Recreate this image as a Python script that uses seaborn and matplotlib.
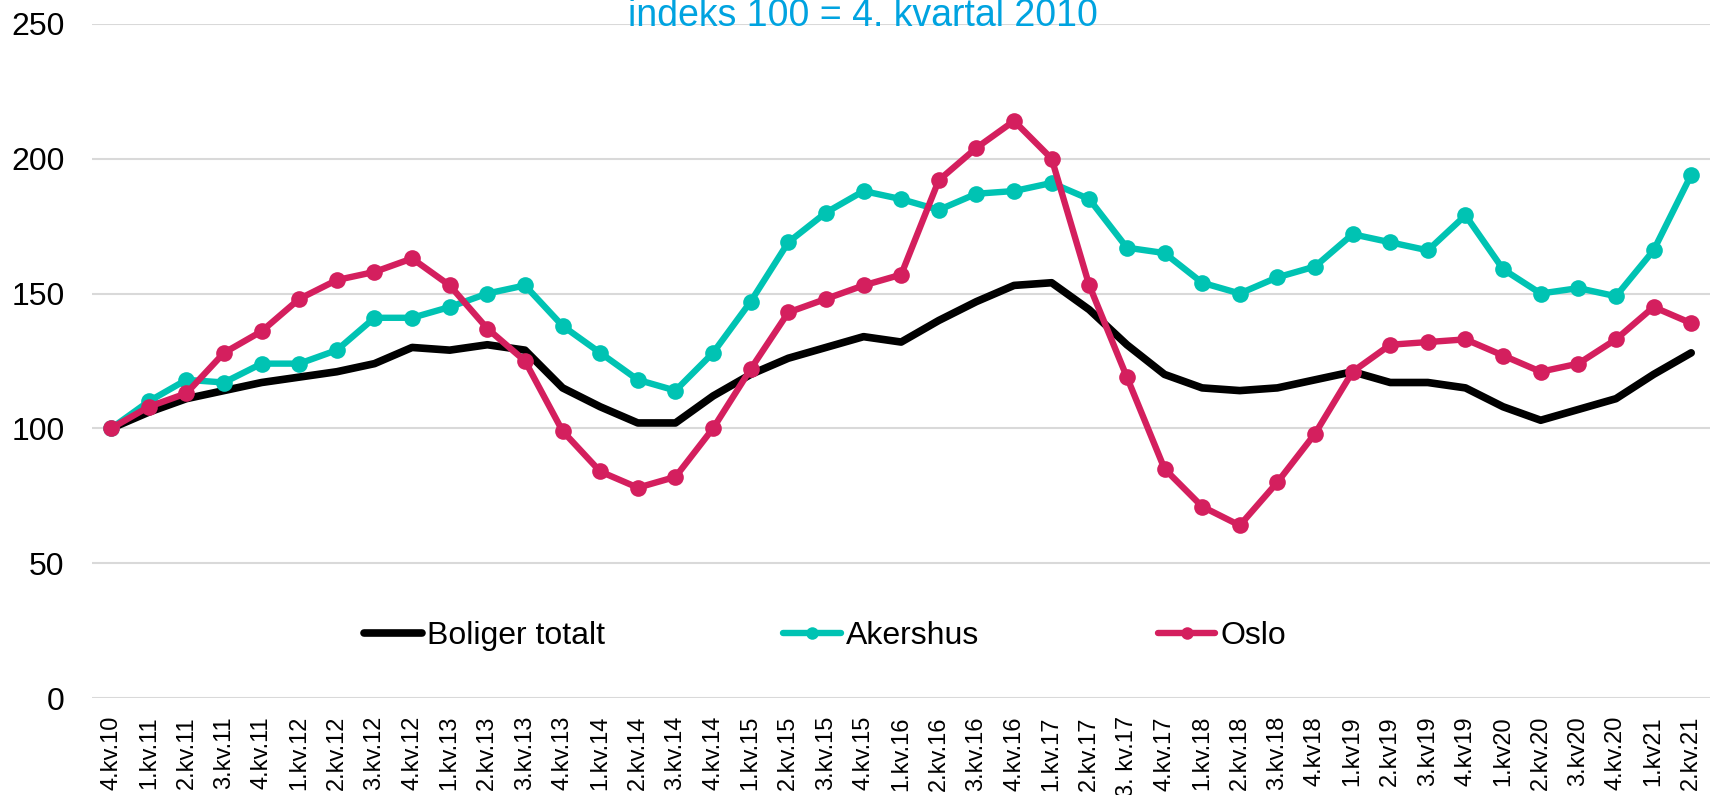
import numpy as np
import pandas as pd
import matplotlib
matplotlib.use("Agg")
import matplotlib.pyplot as plt
import seaborn as sns

# quarters (labels as in the source chart)
kvartal = ["4.kv.10", "1.kv.11", "2.kv.11", "3.kv.11", "4.kv.11", "1.kv.12", "2.kv.12",
           "3.kv.12", "4.kv.12", "1.kv.13", "2.kv.13", "3.kv.13", "4.kv.13", "1.kv.14",
           "2.kv.14", "3.kv.14", "4.kv.14", "1.kv.15", "2.kv.15", "3.kv.15", "4.kv.15",
           "1.kv.16", "2.kv.16", "3.kv.16", "4.kv.16", "1.kv.17", "2.kv.17", "3. kv.17",
           "4.kv.17", "1.kv.18", "2.kv.18", "3.kv.18", "4.kv18", "1.kv19", "2.kv19",
           "3.kv19", "4.kv19", "1.kv20", "2.kv.20", "3.kv20", "4.kv.20", "1.kv21", "2.kv.21"]

boliger_totalt = [100, 106, 111, 114, 117, 119, 121, 124, 130, 129, 131, 129, 115, 108,
                  102, 102, 112, 120, 126, 130, 134, 132, 140, 147, 153, 154, 144, 131,
                  120, 115, 114, 115, 118, 121, 117, 117, 115, 108, 103, 107, 111, 120, 128]

akershus = [100, 110, 118, 117, 124, 124, 129, 141, 141, 145, 150, 153, 138, 128,
            118, 114, 128, 147, 169, 180, 188, 185, 181, 187, 188, 191, 185, 167,
            165, 154, 150, 156, 160, 172, 169, 166, 179, 159, 150, 152, 149, 166, 194]

oslo = [100, 108, 113, 128, 136, 148, 155, 158, 163, 153, 137, 125, 99, 84,
        78, 82, 100, 122, 143, 148, 153, 157, 192, 204, 214, 200, 153, 119,
        85, 71, 64, 80, 98, 121, 131, 132, 133, 127, 121, 124, 133, 145, 139]

df = pd.DataFrame({"kvartal": kvartal, "Boliger totalt": boliger_totalt,
                   "Akershus": akershus, "Oslo": oslo})

sns.set_theme(style="white")
plt.rcParams['font.family'] = ['Liberation Sans', 'DejaVu Sans']

fig, ax = plt.subplots(figsize=(17.1, 7.95), dpi=100)
fig.subplots_adjust(left=0.054, right=1.0, bottom=0.122, top=0.970)

sns.lineplot(data=df, x="kvartal", y="Boliger totalt", ax=ax, sort=False,
             color="black", linewidth=5.5, label="Boliger totalt")
sns.lineplot(data=df, x="kvartal", y="Akershus", ax=ax, sort=False,
             color="#00C3B3", linewidth=4.6, marker="o", markersize=12,
             markeredgewidth=0, label="Akershus")
sns.lineplot(data=df, x="kvartal", y="Oslo", ax=ax, sort=False,
             color="#D41F5E", linewidth=4.6, marker="o", markersize=12,
             markeredgewidth=0, label="Oslo")

ax.set_ylim(0, 250)
ax.set_yticks(np.arange(0, 251, 50))
ax.set_xlim(-0.5, len(kvartal) - 0.5)
ax.set_xlabel("")
ax.set_ylabel("")
ax.grid(axis="y", color="#D9D9D9", linewidth=1.5)
ax.set_axisbelow(True)
for s in ax.spines.values():
    s.set_visible(False)

ax.tick_params(axis="y", labelsize=23, pad=20, length=0, labelcolor="black")
ax.tick_params(axis="x", labelsize=17, pad=13, length=0, labelrotation=90,
               labelcolor="black")

leg = ax.legend(loc="center", bbox_to_anchor=(0.453, 0.092), ncol=3, frameon=False,
                fontsize=23, handlelength=1.8, handletextpad=0.15,
                columnspacing=5.6, markerscale=0.75)
for t in leg.get_texts():
    t.set_color("black")

fig.text(863 / 1710, 1 - 26 / 795, "indeks 100 = 4. kvartal 2010", ha="center",
         va="baseline", fontsize=27, color="#00A3E0")

fig.savefig("out.png", dpi=100)
